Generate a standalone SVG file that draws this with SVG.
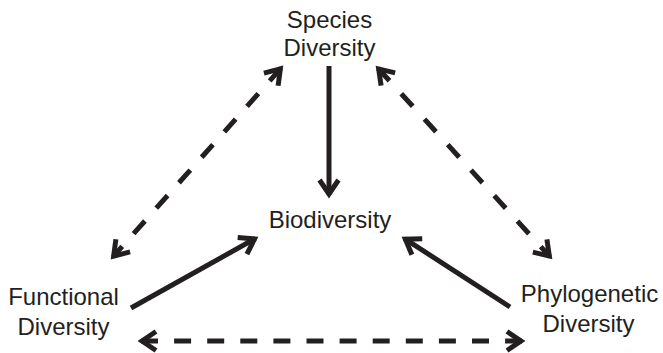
<svg xmlns="http://www.w3.org/2000/svg" width="663" height="353" viewBox="0 0 663 353">
<style>
text{font-family:"Liberation Sans",Arial,sans-serif;font-size:24px;fill:#231f20;text-anchor:middle}
.c{stroke:#231f20;stroke-width:5;fill:none}
</style>
<defs>
<marker id="ah" markerUnits="userSpaceOnUse" orient="auto-start-reverse" refX="0" refY="0" markerWidth="30" markerHeight="30" overflow="visible">
<path d="M-15,-9.5 L-1,0 L-15,9.5" fill="none" stroke="#231f20" stroke-width="5" stroke-linejoin="miter" stroke-miterlimit="10"/>
</marker>
</defs>
<rect width="663" height="353" fill="#fff"/>
<g id="species"><text x="329.5" y="28">Species</text><text x="329.5" y="56">Diversity</text></g>
<g id="biodiversity"><text x="330" y="228">Biodiversity</text></g>
<g id="functional"><text x="63.5" y="305">Functional</text><text x="63.5" y="335">Diversity</text></g>
<g id="phylogenetic"><text x="589.5" y="302">Phylogenetic</text><text x="588.5" y="332">Diversity</text></g>
<g id="connectors">
<line class="c" x1="329" y1="66" x2="329" y2="195" marker-end="url(#ah)"/>
<line class="c" x1="131" y1="308" x2="255.4" y2="238.5" marker-end="url(#ah)"/>
<line class="c" x1="510" y1="307" x2="404.5" y2="238.6" marker-end="url(#ah)"/>
<line class="c" x1="281" y1="68.2" x2="113" y2="256.8" style="stroke-dasharray:17 17.1" marker-start="url(#ah)" marker-end="url(#ah)"/>
<line class="c" x1="378" y1="68.2" x2="550" y2="256.8" style="stroke-dasharray:17 17.5" marker-start="url(#ah)" marker-end="url(#ah)"/>
<line class="c" x1="141" y1="341" x2="522" y2="341" style="stroke-dasharray:17 16.1" marker-start="url(#ah)" marker-end="url(#ah)"/>
</g>
</svg>
